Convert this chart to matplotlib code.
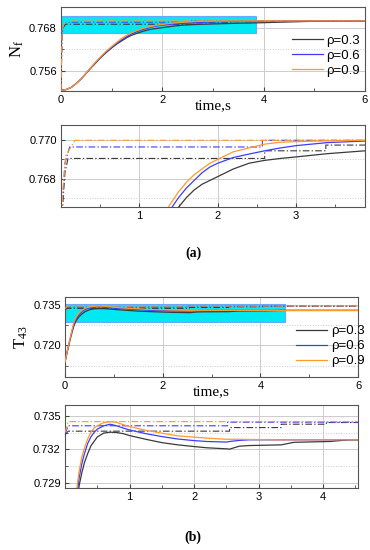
import matplotlib
matplotlib.use("Agg")
import matplotlib.pyplot as plt
from matplotlib.ticker import MultipleLocator, FormatStrFormatter
from matplotlib.patches import Rectangle

plt.rcParams['font.family'] = ['Liberation Sans', 'DejaVu Sans']
plt.rcParams['mathtext.fontset'] = 'custom'
plt.rcParams['mathtext.rm'] = 'Liberation Serif'
plt.rcParams['mathtext.it'] = 'Liberation Serif:italic'

# ---------------- data: panel (a) N_f ----------------
labels = ['ρ=0.3', 'ρ=0.6', 'ρ=0.9']
colors = ['#3a3a3a', '#3c3cff', '#ff9a2e']

nf_t = [0, 0.1, 0.2, 0.3, 0.4, 0.5, 0.6, 0.7, 0.8, 0.9, 1.0, 1.1, 1.2, 1.3, 1.4, 1.5,
        1.6, 1.7, 1.8, 1.9, 2.0, 2.2, 2.4, 2.6, 2.8, 3.0, 3.4, 3.88, 4.5, 5.0, 6.0]
nf_orange = [0.7505, 0.7507, 0.7513, 0.7524, 0.7538, 0.7554, 0.7571, 0.7587, 0.7602, 0.7616,
             0.7628, 0.7640, 0.7651, 0.7660, 0.7667, 0.7673, 0.7678, 0.7682, 0.7685, 0.7688,
             0.7690, 0.7694, 0.7696, 0.7698, 0.7699, 0.76993, 0.76997, 0.7700, 0.7700, 0.7700, 0.7700]
nf_blue = [0.7505, 0.7507, 0.7513, 0.7524, 0.7538, 0.7554, 0.7570, 0.7586, 0.7601, 0.7614,
           0.7626, 0.7637, 0.7647, 0.7656, 0.7664, 0.7670, 0.7675, 0.7679, 0.7683, 0.7686,
           0.7688, 0.7691, 0.76928, 0.76945, 0.7696, 0.76972, 0.76988, 0.76996, 0.7700, 0.7700, 0.7700]
nf_black = [0.7505, 0.7507, 0.7513, 0.7524, 0.7537, 0.7553, 0.7569, 0.7584, 0.7599, 0.7612,
            0.7624, 0.7635, 0.7644, 0.7653, 0.7660, 0.7665, 0.7670, 0.7674, 0.7677, 0.7679,
            0.7681, 0.7685, 0.7688, 0.76895, 0.76905, 0.76913, 0.7693, 0.76945, 0.7697, 0.7699, 0.7700]

nfd_black_t = [0, 0.02, 0.05, 0.09, 2.6, 2.6, 3.38, 3.38, 4.2, 4.2, 6.0]
nfd_black = [0.7505, 0.7665, 0.7683, 0.76905, 0.76905, 0.76945, 0.76945, 0.76975, 0.76975, 0.7700, 0.7700]
nfd_blue_t = [0, 0.02, 0.05, 0.11, 2.57, 2.57, 6.0]
nfd_blue = [0.7505, 0.7668, 0.7688, 0.76965, 0.76965, 0.7700, 0.7700]
nfd_orange_t = [0, 0.02, 0.06, 0.18, 6.0]
nfd_orange = [0.7505, 0.7672, 0.7692, 0.7700, 0.7700]

# ---------------- data: panel (b) T43 ----------------
tt = [0, 0.03, 0.06, 0.1, 0.14, 0.18, 0.22, 0.26, 0.3, 0.35, 0.4, 0.45, 0.5, 0.6, 0.7, 0.8,
      0.9, 1.0, 1.25, 1.5, 1.75, 2.0, 2.2, 2.5, 2.55, 2.7, 2.85, 3.35, 3.55, 4.1, 4.4, 4.5, 6.0]
t_orange = [0.7138, 0.7165, 0.7190, 0.7222, 0.7254, 0.7284, 0.7301, 0.7313, 0.7321, 0.7329,
            0.7335, 0.7339, 0.7341, 0.73438, 0.73447, 0.7344, 0.7342, 0.73403, 0.7337, 0.73344,
            0.7332, 0.73309, 0.7330, 0.7329, 0.7329, 0.7329, 0.73288, 0.73285, 0.73285, 0.73285,
            0.73285, 0.73285, 0.73285]
t_blue = [0.7138, 0.7164, 0.7189, 0.7220, 0.7250, 0.7278, 0.7295, 0.7307, 0.7316, 0.7325,
          0.7331, 0.7335, 0.7338, 0.7341, 0.73424, 0.7341, 0.7339, 0.73373, 0.7334, 0.73314,
          0.73292, 0.73278, 0.7327, 0.73265, 0.7327, 0.7328, 0.73285, 0.73285, 0.73285, 0.73285,
          0.73285, 0.73285, 0.73285]
t_black = [0.7138, 0.7163, 0.7187, 0.7217, 0.7245, 0.7270, 0.7288, 0.7299, 0.7308, 0.7316,
           0.7323, 0.7327, 0.7331, 0.73345, 0.73353, 0.7335, 0.7334, 0.73323, 0.7329, 0.7326,
           0.7324, 0.73225, 0.73214, 0.73205, 0.73202, 0.73228, 0.73234, 0.7324, 0.73263, 0.7327,
           0.73285, 0.73285, 0.73285]

td_black_t = [0, 0.05, 2.55, 2.55, 3.35, 3.35, 4.05, 4.05, 6.0]
td_black = [0.7333, 0.73362, 0.73362, 0.73394, 0.73394, 0.73424, 0.73424, 0.73439, 0.73439]
td_blue_t = [0, 0.05, 2.52, 2.52, 6.0]
td_blue = [0.7334, 0.7341, 0.7341, 0.73442, 0.73442]
td_orange_t = [0, 0.05, 6.0]
td_orange = [0.7335, 0.73447, 0.73447]

W, H = 370, 550
fig = plt.figure(figsize=(W / 100, H / 100), dpi=100)


def add_ax(x0, y0, x1, y1):
    return fig.add_axes([x0 / W, 1 - y1 / H, (x1 - x0) / W, (y1 - y0) / H])


def style(ax, xmaj, xmin, ymaj, ymin):
    ax.xaxis.set_major_locator(MultipleLocator(xmaj))
    ax.xaxis.set_minor_locator(MultipleLocator(xmin))
    ax.yaxis.set_major_locator(MultipleLocator(ymaj))
    ax.yaxis.set_minor_locator(MultipleLocator(ymin))
    ax.yaxis.set_major_formatter(FormatStrFormatter('%.3f'))
    ax.tick_params(which='both', direction='in', labelsize=8, pad=3,
                   color='#444444')
    ax.tick_params(which='major', length=3)
    ax.tick_params(which='minor', length=2)
    ax.grid(which='major', color='#cccccc', lw=0.7)
    ax.grid(which='minor', axis='y', color='#cccccc', lw=0.7, ls=':')
    for s in ax.spines.values():
        s.set_color('#555555')
        s.set_linewidth(0.8)
    ax.set_axisbelow(True)


def draw(ax, t, ys, dt, dys):
    for (dtx, dy), c in zip(zip(dt, dys), colors):
        ax.plot(dtx, dy, color=c, lw=0.8, ls=(0, (6, 2, 1.2, 2)), zorder=3)
    lines = []
    for y, c, lab in zip(ys, colors, labels):
        l, = ax.plot(t, y, color=c, lw=0.9, zorder=4, label=lab)
        lines.append(l)
    return lines


def legend(ax, handles, x, y):
    ax.legend(handles=handles, frameon=False, fontsize=9.5, loc='upper left',
              bbox_to_anchor=(x, y), borderpad=0, handlelength=2.4,
              handletextpad=0.25, labelspacing=0.2)


# ---- panel (a) top ----
ax1 = add_ax(61, 7, 365, 91)
style(ax1, 2, 1, 0.012, 0.006)
ax1.add_patch(Rectangle((0, 0.7665), 3.85, 0.0050, facecolor='#00e8f2',
                        edgecolor='#6aa8ff', lw=0.8, zorder=2))
ls1 = draw(ax1, nf_t, [nf_black, nf_blue, nf_orange],
           [nfd_black_t, nfd_blue_t, nfd_orange_t], [nfd_black, nfd_blue, nfd_orange])
ax1.set_xlim(0, 6)
ax1.set_ylim(0.7503, 0.7739)
ax1.set_xlabel('time,s', family='Liberation Serif', fontsize=11, labelpad=-4)
ax1.set_ylabel(r'N$_\mathrm{f}$', family='Liberation Serif', fontsize=12, labelpad=2)
legend(ax1, ls1, 0.737, 0.75)

# ---- panel (a) zoom ----
ax2 = add_ax(61, 125, 365, 207)
style(ax2, 1, 0.5, 0.002, 0.001)
draw(ax2, nf_t, [nf_black, nf_blue, nf_orange],
     [nfd_black_t, nfd_blue_t, nfd_orange_t], [nfd_black, nfd_blue, nfd_orange])
ax2.set_xlim(0, 3.88)
ax2.set_ylim(0.76651, 0.7708)
ax2.set_xticks([1, 2, 3])

fig.text(193 / W, 1 - 253 / H, '(a)', ha='center', va='center',
         family='Liberation Serif', fontsize=10, weight='bold')

# ---- panel (b) top ----
ax3 = add_ax(65, 297, 358, 377)
style(ax3, 2, 1, 0.015, 0.0075)
ax3.add_patch(Rectangle((0, 0.7285), 4.5, 0.0069, facecolor='#00e8f2',
                        edgecolor='#6aa8ff', lw=0.8, zorder=2))
ls3 = draw(ax3, tt, [t_black, t_blue, t_orange],
           [td_black_t, td_blue_t, td_orange_t], [td_black, td_blue, td_orange])
ax3.set_xlim(0, 6)
ax3.set_ylim(0.7083, 0.7378)
ax3.set_xlabel('time,s', family='Liberation Serif', fontsize=11, labelpad=-4)
ax3.set_ylabel(r'T$_{\mathrm{43}}$', family='Liberation Serif', fontsize=12, labelpad=2)
legend(ax3, ls3, 0.765, 0.73)

# ---- panel (b) zoom ----
ax4 = add_ax(65, 405, 358, 488)
style(ax4, 1, 0.5, 0.003, 0.0015)
draw(ax4, tt, [t_black, t_blue, t_orange],
     [td_black_t, td_blue_t, td_orange_t], [td_black, td_blue, td_orange])
ax4.set_xlim(0, 4.54)
ax4.set_ylim(0.72856, 0.73595)
ax4.set_xticks([1, 2, 3, 4])

fig.text(193 / W, 1 - 537 / H, '(b)', ha='center', va='center',
         family='Liberation Serif', fontsize=10, weight='bold')

fig.savefig('out.png', dpi=100)
